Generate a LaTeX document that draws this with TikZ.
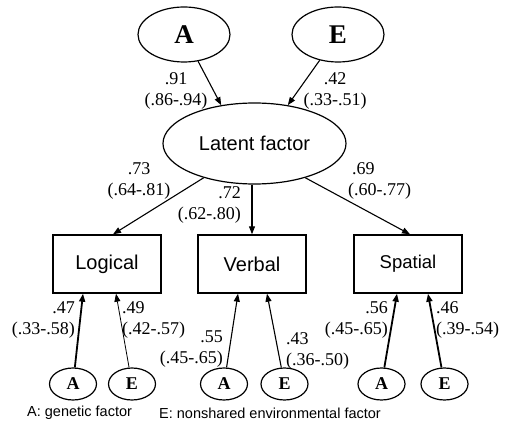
\documentclass[tikz,border=0pt]{standalone}
\usepackage{fontspec}
\setmainfont{Liberation Serif}
\newfontfamily\sansfont{Liberation Sans}
\usetikzlibrary{arrows.meta,shapes.geometric}
\begin{document}
\begin{tikzpicture}[x=1pt,y=-1pt,
  bigfactor/.style={draw,ellipse,line width=1.2pt,inner sep=0pt,
    minimum width=92pt,minimum height=55pt,font=\fontsize{27}{27}\selectfont\bfseries},
  smallfactor/.style={draw,ellipse,line width=1.2pt,inner sep=0pt,
    minimum width=47pt,minimum height=32pt,font=\fontsize{18}{18}\selectfont\bfseries},
  latentbox/.style={draw,ellipse,line width=1.2pt,inner sep=0pt,
    minimum width=183pt,minimum height=81pt,font=\sansfont\fontsize{20}{24}\selectfont},
  testbox/.style={draw,rectangle,line width=1.4pt,inner sep=0pt,
    minimum width=108pt,minimum height=58pt,font=\sansfont\fontsize{20}{24}\selectfont},
  arr/.style={-{Triangle[length=8pt,width=6pt]},line width=1.1pt},
  thinarr/.style={arr,line width=0.8pt},
  thickarr/.style={arr,line width=1.8pt},
  coef/.style={inner sep=0pt,font=\fontsize{18}{21}\selectfont},
  legend/.style={inner sep=0pt,anchor=west,font=\sansfont\fontsize{14.5}{17}\selectfont}]
\useasboundingbox (0,0) rectangle (506,430);

% top-level variance components
\node[bigfactor] (topA) at (184,34.5) {A};
\node[bigfactor] (topE) at (338,34.5) {E};
\node[latentbox] (latent) at (254.5,143.5) {Latent factor};

% observed measures
\node[testbox] (logical) at (107,264) {Logical};
\node[testbox] (verbal) at (252,264) {Verbal};
\node[testbox,font=\sansfont\fontsize{18.5}{22}\selectfont] (spatial) at (408,264) {Spatial};

% specific A and E components
\node[smallfactor] (a1) at (73,384) {A};
\node[smallfactor] (e1) at (132,384) {E};
\node[smallfactor] (a2) at (224,384) {A};
\node[smallfactor] (e2) at (284.5,384) {E};
\node[smallfactor] (a3) at (381.5,384) {A};
\node[smallfactor] (e3) at (444.5,384) {E};

% paths
\draw[arr] (topA) -- (latent.131);
\draw[arr] (topE) -- (latent.49);
\draw[arr] (latent.214) -- ([xshift=6pt]logical.north);
\draw[arr] (latent.south -| verbal.north) -- (verbal.north);
\draw[arr] (latent.-34) -- ([xshift=2pt]spatial.north);

\draw[thickarr] (a1) -- ([xshift=-24pt]logical.south);
\draw[thinarr] (e1) -- ([xshift=9pt]logical.south);
\draw[arr] (a2) -- ([xshift=-14pt]verbal.south);
\draw[arr] (e2) -- ([xshift=15pt]verbal.south);
\draw[thickarr] (a3) -- ([xshift=-11pt]spatial.south);
\draw[thickarr] (e3) -- ([xshift=20pt]spatial.south);

% path coefficients with confidence intervals
\node[coef,align=center] (cA) at (176,90.5) {.91\\(.86-.94)};
\node[coef,align=center] (cE) at (335,90.5) {.42\\(.33-.51)};
\node[coef,align=center] (cL) at (139,181) {.73\\(.64-.81)};
\node[coef,align=left,anchor=west] (cS) at (348,181) {\hspace{4pt}.69\\(.60-.77)};
\node[coef,align=right,anchor=east] (cV) at (241,204.5) {.72\\(.62-.80)};

\node[coef,align=right,anchor=east] (ca1) at (75,319.5) {.47\\(.33-.58)};
\node[coef,align=left,anchor=west] (ce1) at (122,319.5) {.49\\(.42-.57)};
\node[coef,align=right,anchor=east] (ca2) at (223,349.5) {.55\\(.45-.65)};
\node[coef,align=left,anchor=west] (ce2) at (286,350.5) {.43\\(.36-.50)};
\node[coef,align=right,anchor=east] (ca3) at (388,319.5) {.56\\(.45-.65)};
\node[coef,align=left,anchor=west] (ce3) at (436,319.5) {.46\\(.39-.54)};

% legend
\node[legend] (legA) at (27,413) {A: genetic factor};
\node[legend] (legE) at (159,413) {E: nonshared environmental factor};
\end{tikzpicture}
\end{document}
